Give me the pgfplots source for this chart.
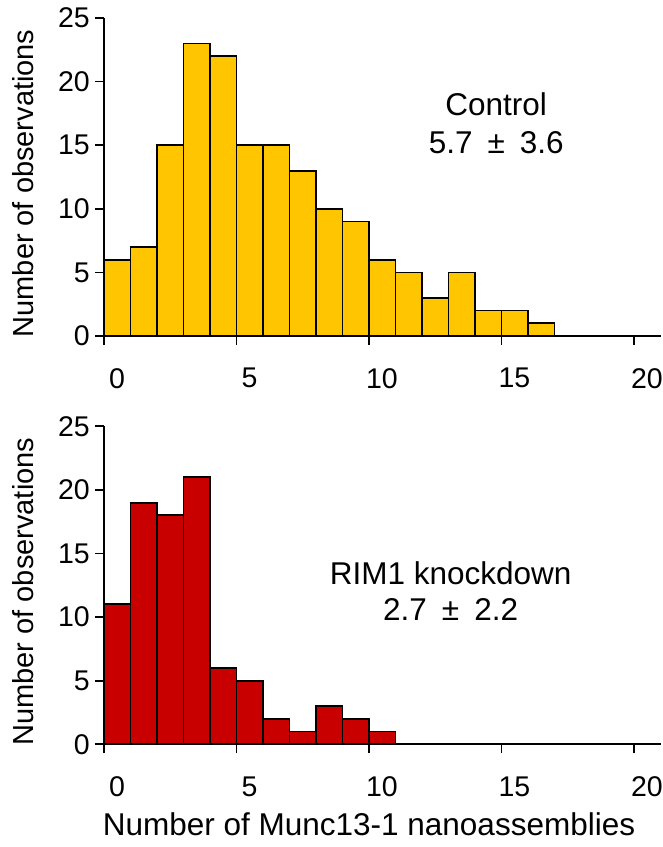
\documentclass[border=0pt]{standalone}
\usepackage{fontspec}
\setmainfont{Liberation Sans}
\usepackage{pgfplots}
\pgfplotsset{compat=1.18}
\definecolor{gold}{RGB}{255,198,0}
\definecolor{dred}{RGB}{200,0,0}
\pgfplotsset{
  histo/.style={
    scale only axis, width=556.5pt, height=318pt,
    xmin=0, xmax=21, ymin=0, ymax=25,
    axis x line=bottom, axis y line=left,
    axis line style={-, line width=1.7pt, black},
    xtick={0,5,10,15,20}, ytick={0,5,10,15,20,25},
    tick align=outside, major tick length=9pt,
    major tick style={black, line width=1.7pt},
    tick label style={font=\fontsize{28.5}{28.5}\selectfont},
    xticklabel style={anchor=north, inner sep=0pt, yshift=-23pt, xshift=13pt},
    yticklabel style={inner sep=0pt, xshift=-5pt},
    /pgf/number format/assume math mode=true,
    ylabel={Number of observations},
    ylabel style={font=\fontsize{29}{29}\selectfont, at={(axis description cs:-0.1456,0.48)}, anchor=center},
    clip=false,
  }
}
\begin{document}
\begin{tikzpicture}
\useasboundingbox (0,0) rectangle (663pt,-847pt);
\begin{axis}[histo, at={(104pt,-336pt)}, anchor=south west]
\addplot[ybar, bar width=1, bar shift=0pt, fill=gold, draw=black, line width=1.8pt] coordinates {
(0.5,6) (1.5,7) (2.5,15) (3.5,23) (4.5,22) (5.5,15) (6.5,15) (7.5,13) (8.5,10)
(9.5,9) (10.5,6) (11.5,5) (12.5,3) (13.5,5) (14.5,2) (15.5,2) (16.5,1)};
\node[align=center, font=\fontsize{31.5}{38}\selectfont] at (axis cs:14.8,16.7) {Control\\5.7\hspace{15pt}±\hspace{15pt}3.6};
\end{axis}
\begin{axis}[histo, at={(104pt,-744.3pt)}, anchor=south west,
  xlabel={Number of Munc13-1 nanoassemblies},
  xlabel style={font=\fontsize{31.5}{31.5}\selectfont, at={(axis description cs:0.47619,0)}, anchor=base, yshift=-90.7pt}]
\addplot[ybar, bar width=1, bar shift=0pt, fill=dred, draw=black, line width=1.8pt] coordinates {
(0.5,11) (1.5,19) (2.5,18) (3.5,21) (4.5,6) (5.5,5) (6.5,2) (7.5,1) (8.5,3) (9.5,2) (10.5,1)};
\node[align=center, font=\fontsize{31.5}{36}\selectfont] at (axis cs:13.08,12.08) {RIM1 knockdown\\2.7\hspace{15pt}±\hspace{15pt}2.2};
\end{axis}
\end{tikzpicture}
\end{document}
